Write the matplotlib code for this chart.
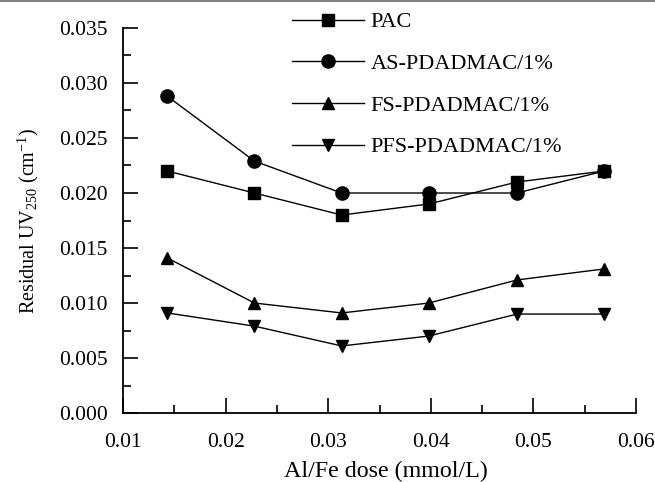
import matplotlib
matplotlib.use("Agg")
import matplotlib.pyplot as plt
from matplotlib.lines import Line2D
from matplotlib.ticker import MultipleLocator

plt.rcParams['font.family'] = ['Liberation Serif', 'DejaVu Serif']
plt.rcParams['mathtext.fontset'] = 'custom'
plt.rcParams['mathtext.rm'] = 'Liberation Serif'
plt.rcParams['mathtext.it'] = 'Liberation Serif:italic'

# Al/Fe dose (mmol/L)
dose = [0.0143, 0.0228, 0.0313, 0.0398, 0.0484, 0.0569]

# residual UV250 (cm^-1)
pac = [0.0220, 0.0200, 0.0180, 0.0190, 0.0210, 0.0220]
as_pd = [0.0288, 0.0229, 0.0200, 0.0200, 0.0200, 0.0220]
fs_pd = [0.0141, 0.0100, 0.0091, 0.0100, 0.0121, 0.0131]
pfs_pd = [0.0091, 0.0079, 0.0061, 0.0070, 0.0090, 0.0090]

labels = ['PAC', 'AS-PDADMAC/1%', 'FS-PDADMAC/1%', 'PFS-PDADMAC/1%']
markers = ['s', 'o', '^', 'v']
msizes = [9, 9.5, 9, 9]
zorders = [4, 3, 3, 3]  # PAC square sits on top where it meets the circle

fig = plt.figure(figsize=(6.55, 4.82), dpi=100)
ax = fig.add_axes([0.188, 0.143, 0.783, 0.799])

for ys, lab, m, ms, z in zip([pac, as_pd, fs_pd, pfs_pd], labels, markers, msizes, zorders):
    ax.plot(dose, ys, color='black', lw=1.0, marker=m, markersize=ms, label=lab, zorder=z)

ax.set_xlim(0.01, 0.06)
ax.set_ylim(0, 0.035)
ax.xaxis.set_major_locator(MultipleLocator(0.01))
ax.xaxis.set_minor_locator(MultipleLocator(0.005))
ax.yaxis.set_major_locator(MultipleLocator(0.005))
ax.yaxis.set_minor_locator(MultipleLocator(0.0025))
ax.set_xticks(ax.get_xticks())
ax.set_xticklabels([f'{v:.2f}' for v in ax.get_xticks()])
ax.set_yticks(ax.get_yticks())
ax.set_yticklabels([f'{v:.3f}' for v in ax.get_yticks()])
ax.set_xlim(0.01, 0.06)
ax.set_ylim(0, 0.035)

ax.tick_params(which='major', direction='in', length=11, width=1.2, labelsize=15.5)
ax.tick_params(axis='x', which='major', pad=14)
ax.tick_params(axis='y', which='major', pad=11)
ax.tick_params(which='minor', direction='in', length=5.5, width=1.2)
for s in ['top', 'right']:
    ax.spines[s].set_visible(False)
for s in ['left', 'bottom']:
    ax.spines[s].set_linewidth(1.3)

ax.set_xlabel('Al/Fe dose (mmol/L)', fontsize=17.3, labelpad=6)
ax.xaxis.set_label_coords(0.512, -0.125)
ax.set_ylabel('Residual UV$_{250}$ (cm$^{-1}$)', fontsize=14.5, labelpad=13)

leg = ax.legend(loc='upper left', bbox_to_anchor=(0.29, 1.094), frameon=False,
                fontsize=16, handlelength=3.25, labelspacing=0.95, handletextpad=0.3)

# thin grey rule along the top of the page
fig.add_artist(Line2D([0, 1], [0.997, 0.997], transform=fig.transFigure,
                      color='#808080', lw=1.5))

fig.savefig('out.png', dpi=100)
